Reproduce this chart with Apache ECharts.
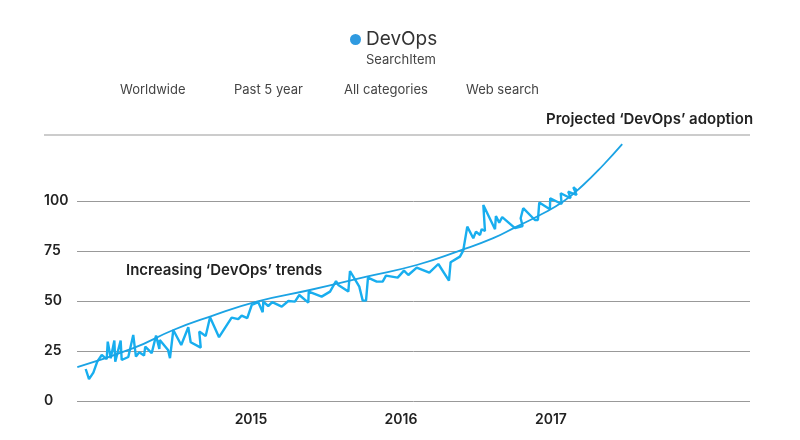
<!DOCTYPE html>
<html>
<head>
<meta charset="utf-8">
<style>html,body{margin:0;padding:0;background:#fff}#chart{width:800px;height:440px}</style>
<script src="https://cdn.jsdelivr.net/npm/echarts@6/dist/echarts.min.js"></script>
</head>
<body>
<div id="chart"></div>
<script>
// search interest (decimal year, value)
let trendYears=[2013.898,2013.92,2013.949,2013.975,2014.005,2014.038,2014.045,2014.065,2014.089,2014.095,2014.131,2014.138,2014.182,2014.215,2014.233,2014.255,2014.287,2014.295,2014.338,2014.367,2014.389,2014.392,2014.447,2014.46,2014.482,2014.535,2014.582,2014.598,2014.665,2014.655,2014.698,2014.727,2014.787,2014.871,2014.915,2014.938,2014.975,2015.005,2015.049,2015.078,2015.082,2015.115,2015.142,2015.205,2015.249,2015.293,2015.322,2015.382,2015.385,2015.471,2015.527,2015.567,2015.582,2015.649,2015.66,2015.722,2015.745,2015.767,2015.78,2015.838,2015.878,2015.9,2015.978,2016.02,2016.049,2016.105,2016.189,2016.249,2016.32,2016.331,2016.393,2016.415,2016.442,2016.482,2016.5,2016.527,2016.538,2016.56,2016.549,2016.627,2016.633,2016.655,2016.675,2016.76,2016.811,2016.798,2016.815,2016.893,2016.913,2016.922,2016.993,2016.995,2017.071,2017.065,2017.131,2017.115,2017.171,2017.149,2017.175];
let trendValues=[16,10.9,14.2,19.7,23,20.9,29.7,21.4,30.2,19.7,30.2,20.5,22,33,22.2,24.4,22.7,27.2,23.9,32.7,26,30.5,25.5,21.4,35.5,28,36.9,29.4,26.7,34.7,32.5,41.9,31.9,41.7,40.9,42.7,41.4,48,49.4,44.4,49.7,47.5,49.4,47.2,50,49.7,53,49.2,54.7,52.2,54.7,60,58,54.7,65,57.2,50.2,50.2,61.7,59.7,59.7,62.7,61.7,65.2,63,66.7,64.2,68.5,60.2,69.4,72.2,75.2,87.2,81.4,84.7,83,85.9,85,98,85.9,92.5,89.2,91.9,86.4,87.5,91.4,96.4,90.5,90.5,99.2,95.9,101.4,98.5,103.9,101.4,104.7,103,106.9,105.2];

// projected adoption curve
let projYears=[2013.842,2014.215,2014.482,2014.727,2015.038,2015.393,2015.771,2016.105,2016.393,2016.615,2016.771,2016.927,2017.082,2017.215,2017.349,2017.475];
let projValues=[16.9,26.4,35.5,42.2,49.7,55.5,62.2,68,75.2,81.4,87.2,93,99.7,108,118,128.4];

let yearTicks=[2015,2016,2017];
let valueTicks=[0,25,50,75,100];
let filterLabels=['Worldwide','Past 5 year','All categories','Web search'];
let filterLefts=[120,234,344,466];

let pairs=function (xs,ys) {
    return xs.map((x,i)=>[x,ys[i]]);
};

let FONT='Inter';
let myChart=echarts.init(document.getElementById('chart'));

let texts=filterLabels.map((t,i)=>({
    type:'text',left:filterLefts[i],top:84,
    style:{text:t,font:'13px '+FONT,fill:'#444'}
}));
texts.push({type:'text',left:366,top:54,style:{text:'SearchItem',font:'13px '+FONT,fill:'#444'}});
texts.push({type:'text',left:546,top:112,style:{text:'Projected ‘DevOps’ adoption',font:'600 15px '+FONT,fill:'#222'}});
texts.push({type:'text',left:126,top:263,style:{text:'Increasing ‘DevOps’ trends',font:'600 15px '+FONT,fill:'#222'}});
// top rule runs further left than the others
texts.push({type:'line',shape:{x1:44,y1:135,x2:750,y2:135},style:{stroke:'#999',lineWidth:1}});

let option={
    animation:false,
    textStyle:{fontFamily:FONT},
    grid:{left:77,right:50,top:135,bottom:39},
    legend:{
        left:345,top:25,
        icon:'circle',itemWidth:11,itemHeight:11,itemGap:10,
        data:[{name:'DevOps',itemStyle:{color:'#2f9ae0'}}],
        textStyle:{fontSize:19,color:'#333',fontFamily:FONT}
    },
    xAxis:{
        type:'value',min:2013.84,max:2018.327,
        axisLine:{show:false},
        axisTick:{show:false,customValues:yearTicks},
        splitLine:{show:false},
        axisLabel:{
            customValues:yearTicks,margin:12,
            formatter:v=>String(v),
            fontSize:14,fontWeight:600,color:'#222'
        }
    },
    yAxis:{
        type:'value',min:0,max:133,
        axisLine:{show:false},
        axisTick:{show:false,customValues:valueTicks},
        splitLine:{show:true,lineStyle:{color:'#999',width:1}},
        axisLabel:{
            customValues:valueTicks,margin:33,align:'left',
            padding:[0,0,3,0],
            fontSize:14,fontWeight:600,color:'#222'
        }
    },
    series:[
        {
            name:'DevOps',type:'line',
            data:pairs(trendYears,trendValues),
            showSymbol:false,
            lineStyle:{color:'#18aeef',width:2.4},
            itemStyle:{color:'#18aeef'}
        },
        {
            name:'Projected',type:'line',smooth:true,
            data:pairs(projYears,projValues),
            showSymbol:false,
            lineStyle:{color:'#1ba3e4',width:1.8},
            itemStyle:{color:'#1ba3e4'}
        }
    ],
    graphic:texts
};
myChart.setOption(option);
</script>
</body>
</html>
